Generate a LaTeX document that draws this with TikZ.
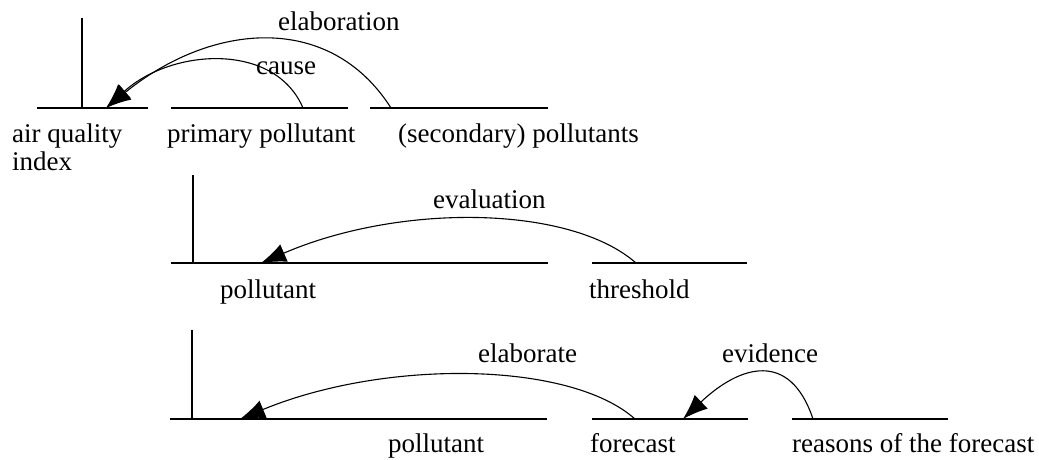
\documentclass[tikz,border=0pt]{standalone}
\usepackage{fontspec}
\setmainfont{Liberation Serif}
\usetikzlibrary{arrows.meta}
\begin{document}
\begin{tikzpicture}[x=1pt,y=-1pt,
  seg/.style={line width=1.1pt},
  rel/.style={line width=1.1pt,-{Latex[length=25pt,width=19pt]}},
  txt/.style={anchor=base west,inner sep=0pt,font=\fontsize{27}{30}\selectfont}]
\useasboundingbox (0,0) rectangle (1039,459);
% ---------- row 1 ----------
\coordinate (v1t) at (82,18); \coordinate (v1b) at (82,108);
\coordinate (a1l) at (37,108); \coordinate (a1r) at (148,108);
\coordinate (b1l) at (171,108); \coordinate (b1r) at (348,108);
\coordinate (c1l) at (370,108); \coordinate (c1r) at (548,108);
\coordinate (aqi) at (106,108);
\coordinate (pp) at (303,108);
\coordinate (sp) at (391,108);
\draw[seg] (v1t) -- (v1b);
\draw[seg] (a1l) -- (a1r);
\draw[seg] (b1l) -- (b1r);
\draw[seg] (c1l) -- (c1r);
\draw[rel] (pp) .. controls (275,42) and (172,48) .. (aqi);
\draw[rel] (sp) .. controls (330,12) and (212,22) .. (aqi);
\node[txt] (lelab) at (278,30) {elaboration};
\node[txt] (lcause) at (256,74) {cause};
\node[txt] (t1a) at (12,142) {air quality};
\node[txt] (t1b) at (12,170) {index};
\node[txt] (t1c) at (167,142) {primary pollutant};
\node[txt] (t1d) at (398,142) {(secondary) pollutants};
% ---------- row 2 ----------
\coordinate (v2t) at (193,175); \coordinate (v2b) at (193,263);
\coordinate (a2l) at (171,263); \coordinate (a2r) at (548,263);
\coordinate (b2l) at (592,263); \coordinate (b2r) at (747,263);
\coordinate (pol2) at (261,263);
\coordinate (thr) at (636,263);
\draw[seg] (v2t) -- (v2b);
\draw[seg] (a2l) -- (a2r);
\draw[seg] (b2l) -- (b2r);
\draw[rel] (thr) .. controls (570,205) and (400,203) .. (pol2);
\node[txt] (leval) at (433,208) {evaluation};
\node[txt] (t2a) at (220,298) {pollutant};
\node[txt] (t2b) at (589,298) {threshold};
% ---------- row 3 ----------
\coordinate (v3t) at (192,330); \coordinate (v3b) at (192,419);
\coordinate (a3l) at (170,419); \coordinate (a3r) at (547,419);
\coordinate (b3l) at (592,419); \coordinate (b3r) at (748,419);
\coordinate (c3l) at (792,419); \coordinate (c3r) at (948,419);
\coordinate (pol3) at (240,419);
\coordinate (fc) at (635,419);
\coordinate (fcin) at (683,419);
\coordinate (rs) at (813,419);
\draw[seg] (v3t) -- (v3b);
\draw[seg] (a3l) -- (a3r);
\draw[seg] (b3l) -- (b3r);
\draw[seg] (c3l) -- (c3r);
\draw[rel] (fc) .. controls (570,361) and (385,359) .. (pol3);
\draw[rel] (rs) .. controls (790,350) and (740,365) .. (fcin);
\node[txt] (lelab3) at (478,362) {elaborate};
\node[txt] (levid) at (722,362) {evidence};
\node[txt] (t3a) at (388,452) {pollutant};
\node[txt] (t3b) at (590,452) {forecast};
\node[txt] (t3c) at (792,452) {reasons of the forecast};
\end{tikzpicture}
\end{document}
